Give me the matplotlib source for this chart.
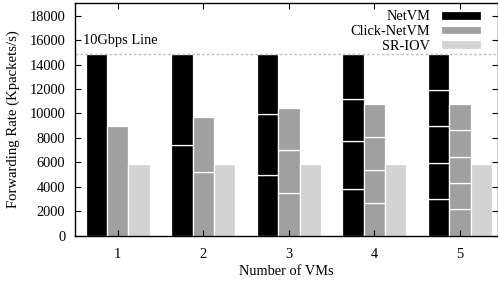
import numpy as np
import matplotlib
matplotlib.use('Agg')
import matplotlib.pyplot as plt

plt.rcParams['font.family'] = ['Liberation Serif', 'DejaVu Serif']

# per-VM forwarding rate (Kpackets/s), one stacked segment per VM
vm_counts = [1, 2, 3, 4, 5]
netvm = [
    [14880],
    [7440, 7440],
    [4960, 5010, 4910],
    [3800, 3940, 3430, 3710],
    [3030, 2950, 2980, 2940, 2980],
]
click_netvm = [
    [8950],
    [5200, 4500],
    [3520, 3480, 3430],
    [2700, 2670, 2670, 2720],
    [2160, 2150, 2150, 2150, 2150],
]
sriov = [5900, 5900, 5900, 5900, 5900]
line_rate = 14880

BLACK = '#000000'
GREY = '#a0a0a0'
LIGHT = '#d3d3d3'

fig = plt.figure(figsize=(4.98, 2.82), dpi=100)
ax = fig.add_axes([0.1506, 0.1638, 0.999 - 0.1506, 0.988 - 0.1638])

w = 0.25
x = np.array(vm_counts, dtype=float)


def stacked(xpos, stacks, color, label):
    for i, segs in enumerate(stacks):
        bottom = 0
        for j, s in enumerate(segs):
            ax.bar(xpos[i], s, w, bottom=bottom, color=color,
                   edgecolor='white', linewidth=0.9,
                   label=label if (i == 0 and j == 0) else None)
            bottom += s


stacked(x - w, netvm, BLACK, 'NetVM')
stacked(x, click_netvm, GREY, 'Click-NetVM')
ax.bar(x + w, sriov, w, color=LIGHT, edgecolor='white', linewidth=0.9,
       label='SR-IOV')

ax.axhline(line_rate, color='#c0c0c0', linestyle=(0, (2, 1.5)), linewidth=1)
ax.text(0.595, line_rate + 550, '10Gbps Line', fontsize=10.4, ha='left',
        va='bottom')

ax.set_xlim(0.5, 5.44)
ax.set_ylim(0, 19000)
ax.set_yticks(np.arange(0, 18001, 2000))
ax.set_xticks(vm_counts)
ax.tick_params(direction='in', top=True, right=True, labelsize=10.4,
               length=4, width=0.8)
ax.tick_params(axis='y', pad=7)
ax.tick_params(axis='x', pad=9)
for sp in ax.spines.values():
    sp.set_linewidth(1)

ax.set_xlabel('Number of VMs', fontsize=10.4, labelpad=3)
ax.set_ylabel('Forwarding Rate (Kpackets/s)', fontsize=10.6, labelpad=7)

leg = ax.legend(loc='upper right', bbox_to_anchor=(0.968, 0.982),
                markerfirst=False, frameon=False,
                fontsize=10.4, handlelength=2.8, handleheight=0.55,
                labelspacing=0.12, handletextpad=0.72,
                borderaxespad=0.0, borderpad=0.2)

fig.savefig('out.png', dpi=100)
